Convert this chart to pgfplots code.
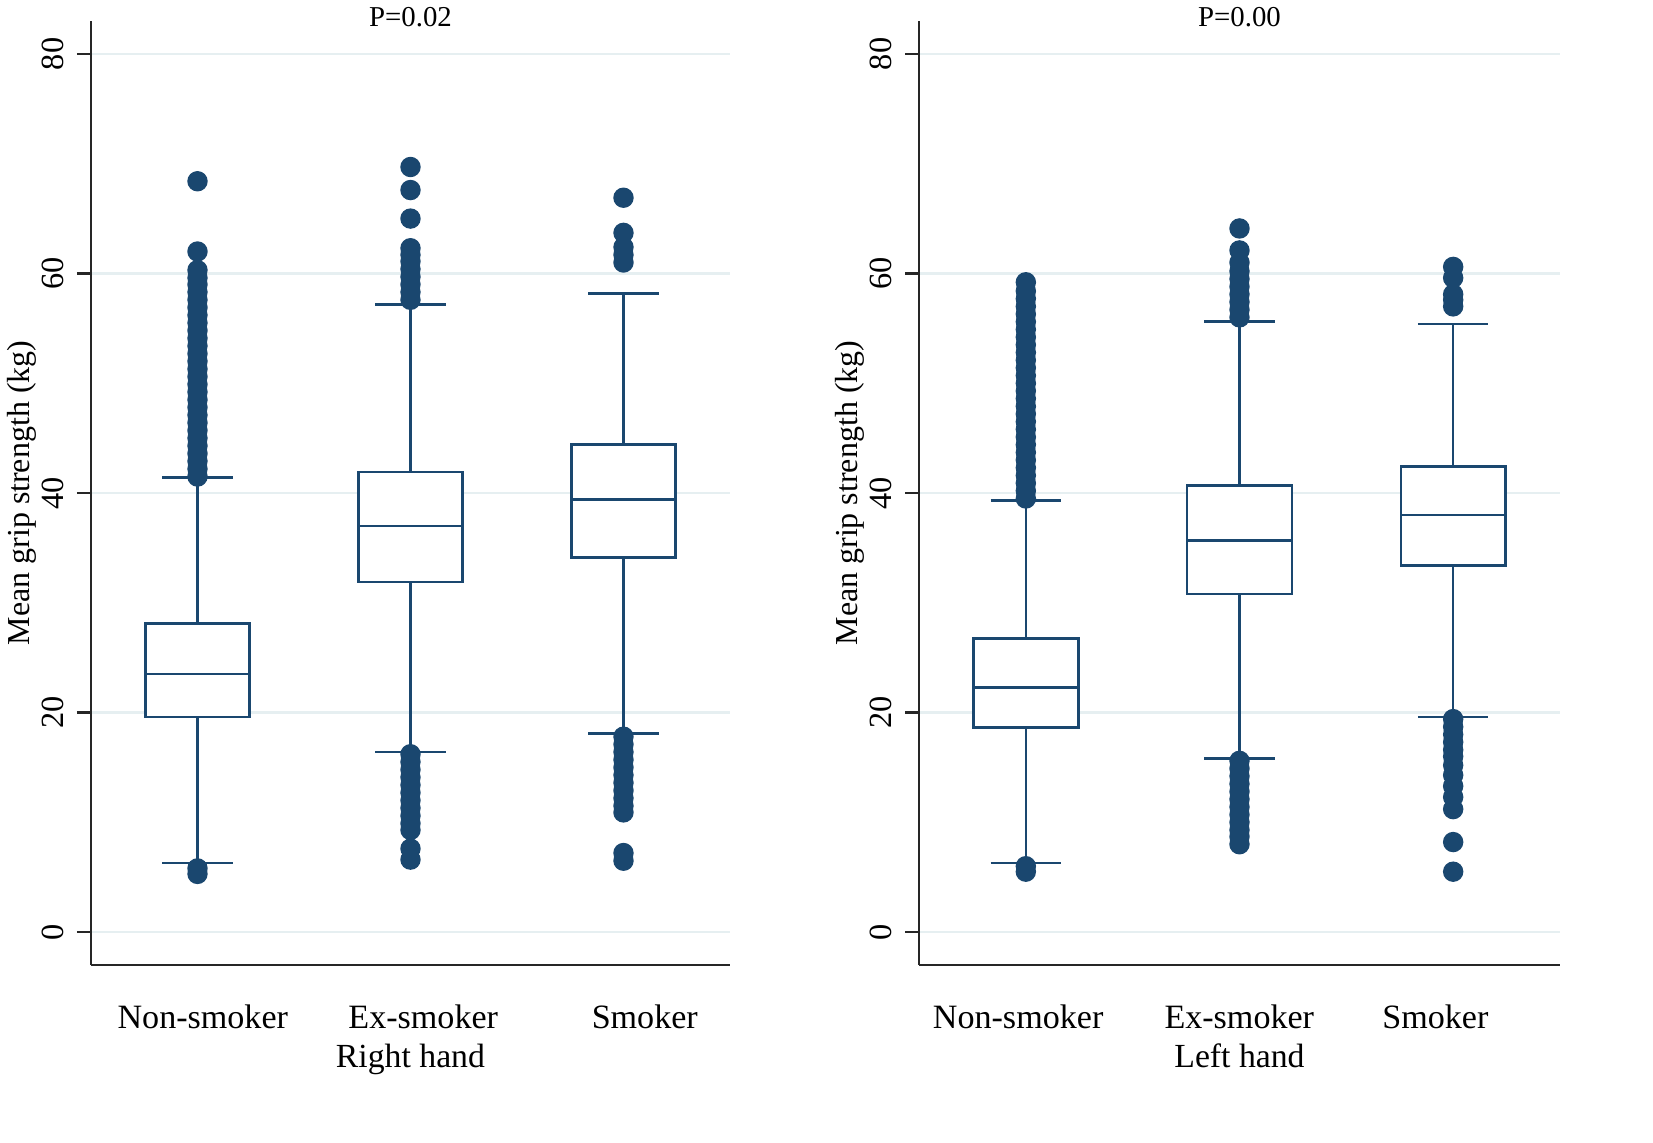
\documentclass[border=0pt]{standalone}
\usepackage{fontspec}
\setmainfont{Liberation Serif}
\usepackage{pgfplots}
\pgfplotsset{compat=1.18}
\usepgfplotslibrary{statistics}
\definecolor{stnavy}{HTML}{1A476F}
\definecolor{stgrid}{HTML}{E6EFF1}
\pgfplotsset{
  gripstyle/.style={
    scale only axis, height=94.4mm,
    xmin=0.5, xmax=3.5, ymin=-3, ymax=83,
    axis x line*=bottom, axis y line*=left,
    axis line style={line width=0.6pt, black!85},
    ytick={0,20,40,60,80},
    ymajorgrids, grid style={stgrid, line width=0.6pt},
    major tick length=1.4mm, tick align=outside,
    ytick style={line width=0.6pt, black!85},
    xtick style={draw=none},
    /pgf/number format/assume math mode=true,
    yticklabel style={font=\fontsize{9.2}{10}\selectfont, xshift=-1.2mm, rotate=90, anchor=south, inner sep=0pt},
    xticklabel style={font=\fontsize{9.7}{11}\selectfont, anchor=base, inner sep=0pt, yshift=-4.9mm},
    xlabel style={font=\fontsize{9.6}{11}\selectfont, at={(axis description cs:0.5,0)}, anchor=base, inner sep=0pt, yshift=-10.2mm},
    ylabel style={font=\fontsize{9.1}{11}\selectfont, at={(axis description cs:-0.108,0.5)}, anchor=center, inner sep=0pt},
    title style={font=\fontsize{8.2}{10}\selectfont, at={(axis description cs:0.5,1)}, anchor=base, inner sep=0pt, yshift=-7.7pt},
    ylabel={Mean grip strength (kg)},
    clip=false,
  },
  gbox/.style={stnavy, line width=0.75pt, fill=white, solid,
    boxplot/draw direction=y, boxplot/box extend=0.49, boxplot/whisker extend=0.33},
  gout/.style={only marks, mark=*, mark size=0.95mm, stnavy, mark options={fill=stnavy, draw=stnavy}},
}
\begin{document}
\begin{tikzpicture}
\useasboundingbox (0,0) rectangle (165.3mm,114.2mm);
% ---------------- Right hand ----------------
\begin{axis}[gripstyle, width=63.9mm, at={(9.1mm,17.7mm)}, anchor=south west,
  xtick={1.025,2.06,3.10}, xticklabels={Non-smoker,Ex-smoker,Smoker},
  xlabel={Right hand}, title={P=0.02}]
\addplot[gbox, boxplot prepared={draw position=1, lower whisker=6.3, lower quartile=19.6, median=23.5, upper quartile=28.1, upper whisker=41.4}] coordinates {};
\addplot[gbox, boxplot prepared={draw position=2, lower whisker=16.4, lower quartile=31.9, median=37.0, upper quartile=41.9, upper whisker=57.2}] coordinates {};
\addplot[gbox, boxplot prepared={draw position=3, lower whisker=18.1, lower quartile=34.1, median=39.4, upper quartile=44.4, upper whisker=58.2}] coordinates {};
% outliers
\addplot[gout] coordinates {
(1,41.5) (1,42.2) (1,42.9) (1,43.6) (1,44.3) (1,45.0) (1,45.7) (1,46.4) (1,47.1) (1,47.8)
(1,48.5) (1,49.2) (1,49.9) (1,50.6) (1,51.3) (1,52.0) (1,52.7) (1,53.4) (1,54.1) (1,54.8)
(1,55.5) (1,56.2) (1,56.9) (1,57.6) (1,58.3) (1,59.0) (1,59.6) (1,60.3) (1,62.0) (1,68.4)
(1,5.3) (1,5.8)
(2,57.6) (2,58.3) (2,59.0) (2,59.7) (2,60.4) (2,61.1) (2,61.7) (2,62.3) (2,65.0) (2,67.6) (2,69.7)
(2,16.2) (2,15.5) (2,14.8) (2,14.1) (2,13.4) (2,12.7) (2,12.0) (2,11.3) (2,10.6) (2,9.9) (2,9.3) (2,7.6) (2,6.6)
(3,61.0) (3,61.7) (3,62.4) (3,63.7) (3,66.9)
(3,17.8) (3,17.1) (3,16.4) (3,15.7) (3,15.0) (3,14.3) (3,13.6) (3,12.9) (3,12.2) (3,11.5) (3,10.9) (3,7.2) (3,6.5)
};
\end{axis}
% ---------------- Left hand ----------------
\begin{axis}[gripstyle, width=64.1mm, at={(91.9mm,17.7mm)}, anchor=south west,
  xtick={0.964,1.999,2.917}, xticklabels={Non-smoker,Ex-smoker,Smoker},
  xlabel={Left hand}, title={P=0.00}]
\addplot[gbox, boxplot prepared={draw position=1, lower whisker=6.3, lower quartile=18.65, median=22.3, upper quartile=26.75, upper whisker=39.3}] coordinates {};
\addplot[gbox, boxplot prepared={draw position=2, lower whisker=15.8, lower quartile=30.8, median=35.7, upper quartile=40.7, upper whisker=55.6}] coordinates {};
\addplot[gbox, boxplot prepared={draw position=3, lower whisker=19.6, lower quartile=33.4, median=38.0, upper quartile=42.4, upper whisker=55.4}] coordinates {};
\addplot[gout] coordinates {
(1,39.5) (1,40.2) (1,40.9) (1,41.6) (1,42.3) (1,43.0) (1,43.7) (1,44.4) (1,45.1) (1,45.8)
(1,46.5) (1,47.2) (1,47.9) (1,48.6) (1,49.3) (1,50.0) (1,50.7) (1,51.4) (1,52.1) (1,52.8)
(1,53.5) (1,54.2) (1,54.9) (1,55.6) (1,56.3) (1,57.0) (1,57.7) (1,58.4) (1,59.2)
(1,5.5) (1,6.0)
(2,56.0) (2,56.7) (2,57.4) (2,58.1) (2,58.8) (2,59.5) (2,60.2) (2,61.0) (2,62.1) (2,64.1)
(2,15.6) (2,14.9) (2,14.2) (2,13.5) (2,12.8) (2,12.1) (2,11.4) (2,10.7) (2,10.0) (2,9.3) (2,8.7) (2,8.0)
(3,57.0) (3,57.6) (3,58.1) (3,59.6) (3,60.6)
(3,19.4) (3,18.7) (3,18.0) (3,17.3) (3,16.6) (3,16.0) (3,15.2) (3,14.3) (3,13.3) (3,12.3) (3,11.2) (3,8.2) (3,5.5)
};
\end{axis}
\end{tikzpicture}
\end{document}
